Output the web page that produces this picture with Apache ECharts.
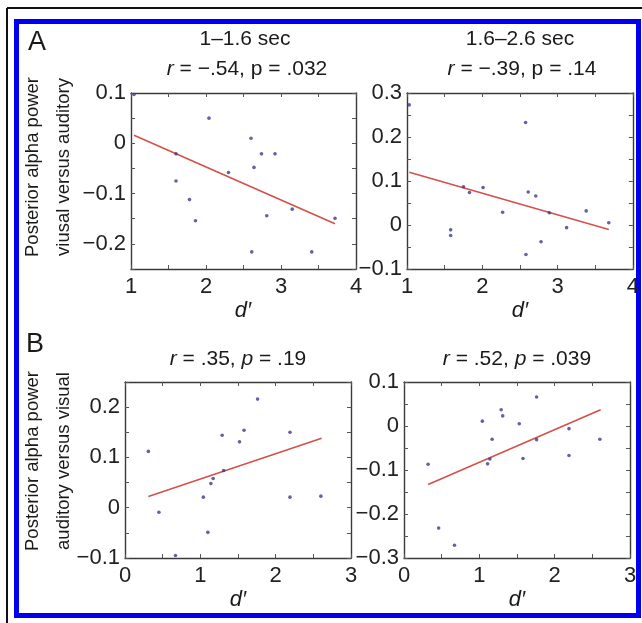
<!DOCTYPE html>
<html>
<head>
<meta charset="utf-8">
<script src="https://cdn.jsdelivr.net/npm/echarts@6/dist/echarts.min.js"></script>
<style>
html,body{margin:0;padding:0;background:#fff;}
#c{width:642px;height:623px;}
</style>
</head>
<body>
<div id="c"></div>
<script>
// ---- data ----
const p1X = [1.04, 2.04, 1.60, 1.60, 1.78, 1.86, 2.30, 2.60, 2.74, 2.92, 2.64, 2.81, 3.15, 3.72, 2.61, 3.41];
const p1Y = [0.097, 0.050, -0.021, -0.075, -0.112, -0.154, -0.058, 0.010, -0.021, -0.021, -0.048, -0.144, -0.131, -0.149, -0.216, -0.216];
const p1LineX = [1.04, 3.72];
const p1LineY = [0.016, -0.160];

const p2X = [1.03, 2.575, 1.58, 1.58, 1.75, 1.83, 2.01, 2.27, 2.61, 2.71, 2.89, 2.78, 2.58, 3.12, 3.38, 3.68];
const p2Y = [0.273, 0.233, -0.011, -0.024, 0.087, 0.074, 0.085, 0.029, 0.075, 0.066, 0.028, -0.038, -0.067, -0.006, 0.032, 0.005];
const p2LineX = [1.03, 3.68];
const p2LineY = [0.120, -0.010];

const p3X = [0.31, 0.45, 0.67, 1.04, 1.10, 1.14, 1.17, 1.29, 1.31, 1.52, 1.58, 1.76, 2.19, 2.19, 2.60];
const p3Y = [0.112, -0.009, -0.095, 0.021, -0.049, 0.048, 0.058, 0.144, 0.074, 0.131, 0.154, 0.216, 0.150, 0.021, 0.023];
const p3LineX = [0.31, 2.61];
const p3LineY = [0.0225, 0.138];

const p4X = [0.32, 0.46, 0.67, 1.04, 1.11, 1.14, 1.17, 1.29, 1.31, 1.53, 1.58, 1.76, 1.76, 2.19, 2.19, 2.60];
const p4Y = [-0.087, -0.232, -0.271, 0.011, -0.086, -0.075, -0.030, 0.037, 0.023, 0.005, -0.074, 0.066, -0.031, -0.006, -0.067, -0.030];
const p4LineX = [0.32, 2.61];
const p4LineY = [-0.133, 0.037];

const xRanges = [[1, 4], [1, 4], [0, 3], [0, 3]];
const yRanges = [[-0.25, 0.1], [-0.1, 0.3], [-0.1, 0.25], [-0.3, 0.1]];
const periodTitles = ['1\u20131.6 sec', '1.6\u20132.6 sec'];
const statR = ['\u2212.54', '\u2212.39', '.35', '.52'];
const statP = ['.032', '.14', '.19', '.039'];
const xTitle = 'd\u2032';
const yTitlesA = ['Posterior alpha power', 'viusal versus auditory'];
const yTitlesB = ['Posterior alpha power', 'auditory versus visual'];
const panelLetters = ['A', 'B'];

// ---- layout ----
const FONT = '"Liberation Sans", Arial, Helvetica, sans-serif';
const grids = [
  {left: 131, top: 93, width: 225, height: 176},
  {left: 407, top: 93, width: 227, height: 176},
  {left: 125, top: 382, width: 226, height: 176},
  {left: 404, top: 382, width: 226, height: 176}
];
const pts = [[p1X, p1Y], [p2X, p2Y], [p3X, p3Y], [p4X, p4Y]];
const lines = [[p1LineX, p1LineY], [p2LineX, p2LineY], [p3LineX, p3LineY], [p4LineX, p4LineY]];

function zip(a, b) { return a.map((v, i) => [v, b[i]]); }
function isMult(v, step) { return Math.abs(v / step - Math.round(v / step)) < 1e-6; }
function fmt(v) {
  const r = Math.round(v * 10) / 10;
  let s = (Math.abs(r) < 1e-9) ? '0' : String(r);
  return s.replace('-', '\u2212');
}

const axisLineStyle = {color: '#3a3a3a', width: 1.4};
const tickStyle = {color: '#555', width: 1};
const xAxes = [], yAxes = [], series = [];
grids.forEach((g, i) => {
  const [xmin, xmax] = xRanges[i];
  const [ymin, ymax] = yRanges[i];
  ['bottom', 'top'].forEach((pos) => {
    xAxes.push({
      type: 'value', gridIndex: i, position: pos, min: xmin, max: xmax, interval: 0.5,
      axisLine: {show: true, onZero: false, lineStyle: axisLineStyle},
      axisTick: {show: true, inside: true, length: 4, lineStyle: tickStyle},
      splitLine: {show: false},
      axisLabel: {
        show: pos === 'bottom', margin: 7, color: '#222', fontSize: 22, fontFamily: FONT,
        showMinLabel: true, showMaxLabel: true,
        formatter: (v) => isMult(v, 1) ? String(Math.round(v)) : ''
      }
    });
  });
  ['left', 'right'].forEach((pos) => {
    yAxes.push({
      type: 'value', gridIndex: i, position: pos, min: ymin, max: ymax, interval: 0.05,
      axisLine: {show: true, onZero: false, lineStyle: axisLineStyle},
      axisTick: {show: true, inside: true, length: 4, lineStyle: tickStyle},
      splitLine: {show: false},
      axisLabel: {
        show: pos === 'left', margin: 5, color: '#222', fontSize: 22, fontFamily: FONT,
        showMinLabel: true, showMaxLabel: true,
        formatter: (v) => isMult(v, 0.1) ? fmt(v) : ''
      }
    });
  });
  series.push({
    type: 'line', xAxisIndex: i * 2, yAxisIndex: i * 2, data: zip(lines[i][0], lines[i][1]),
    showSymbol: false, symbol: 'none', silent: true, z: 2,
    lineStyle: {color: '#d4504a', width: 1.6}
  });
  series.push({
    type: 'scatter', xAxisIndex: i * 2, yAxisIndex: i * 2, data: zip(pts[i][0], pts[i][1]),
    symbol: 'circle', symbolSize: 3.6, silent: true, z: 3,
    itemStyle: {color: '#3a3a8f'}
  });
});

function txt(x, y, text, size, extra) {
  return {
    type: 'text', x: x, y: y, silent: true,
    style: Object.assign({
      text: text, fontSize: size, fontFamily: FONT, fill: '#1a1a1a',
      textAlign: 'center', textVerticalAlign: 'middle'
    }, extra || {})
  };
}
function statText(x, y, i, pItalic) {
  return {
    type: 'text', x: x, y: y, silent: true,
    style: {
      text: '{i|r}{n| = ' + statR[i] + ', }' + (pItalic ? '{i|p}' : '{n|p}') + '{n| = ' + statP[i] + '}',
      fontSize: 21, fontFamily: FONT, fill: '#1a1a1a',
      textAlign: 'center', textVerticalAlign: 'middle',
      rich: {
        i: {fontSize: 21, fontFamily: FONT, fontStyle: 'italic', fill: '#1a1a1a'},
        n: {fontSize: 21, fontFamily: FONT, fill: '#1a1a1a'}
      }
    }
  };
}
function rotText(x, y, text) {
  return {
    type: 'text', x: x, y: y, rotation: Math.PI / 2, silent: true,
    style: {text: text, fontSize: 18.5, fontFamily: FONT, fill: '#1a1a1a', textAlign: 'center', textVerticalAlign: 'middle'}
  };
}

const graphics = [
  {type: 'line', silent: true, shape: {x1: 7, y1: 8, x2: 642, y2: 8}, style: {stroke: '#111', lineWidth: 2}},
  {type: 'line', silent: true, shape: {x1: 7, y1: 8, x2: 7, y2: 623}, style: {stroke: '#111', lineWidth: 2}},
  {type: 'rect', silent: true, shape: {x: 16.5, y: 21.5, width: 622, height: 594}, style: {fill: null, stroke: '#0000f0', lineWidth: 5}},
  txt(37, 43, panelLetters[0], 27),
  txt(35, 345, panelLetters[1], 27),
  txt(245, 39, periodTitles[0], 21),
  txt(520, 39, periodTitles[1], 21),
  statText(247, 69, 0, false),
  statText(522, 69, 1, false),
  statText(238, 359, 2, true),
  statText(517, 359, 3, true),
  txt(243, 311, xTitle, 22, {fontStyle: 'italic'}),
  txt(520, 311, xTitle, 22, {fontStyle: 'italic'}),
  txt(238, 600, xTitle, 22, {fontStyle: 'italic'}),
  txt(517, 600, xTitle, 22, {fontStyle: 'italic'}),
  rotText(33, 167, yTitlesA[0]),
  rotText(64, 167, yTitlesA[1]),
  rotText(33, 461, yTitlesB[0]),
  rotText(64, 461, yTitlesB[1])
];

const chart = echarts.init(document.getElementById('c'), null, {renderer: 'canvas'});
chart.setOption({
  animation: false,
  backgroundColor: '#fff',
  grid: grids.map(g => Object.assign({containLabel: false}, g)),
  xAxis: xAxes,
  yAxis: yAxes,
  series: series,
  graphic: graphics
});
</script>
</body>
</html>
